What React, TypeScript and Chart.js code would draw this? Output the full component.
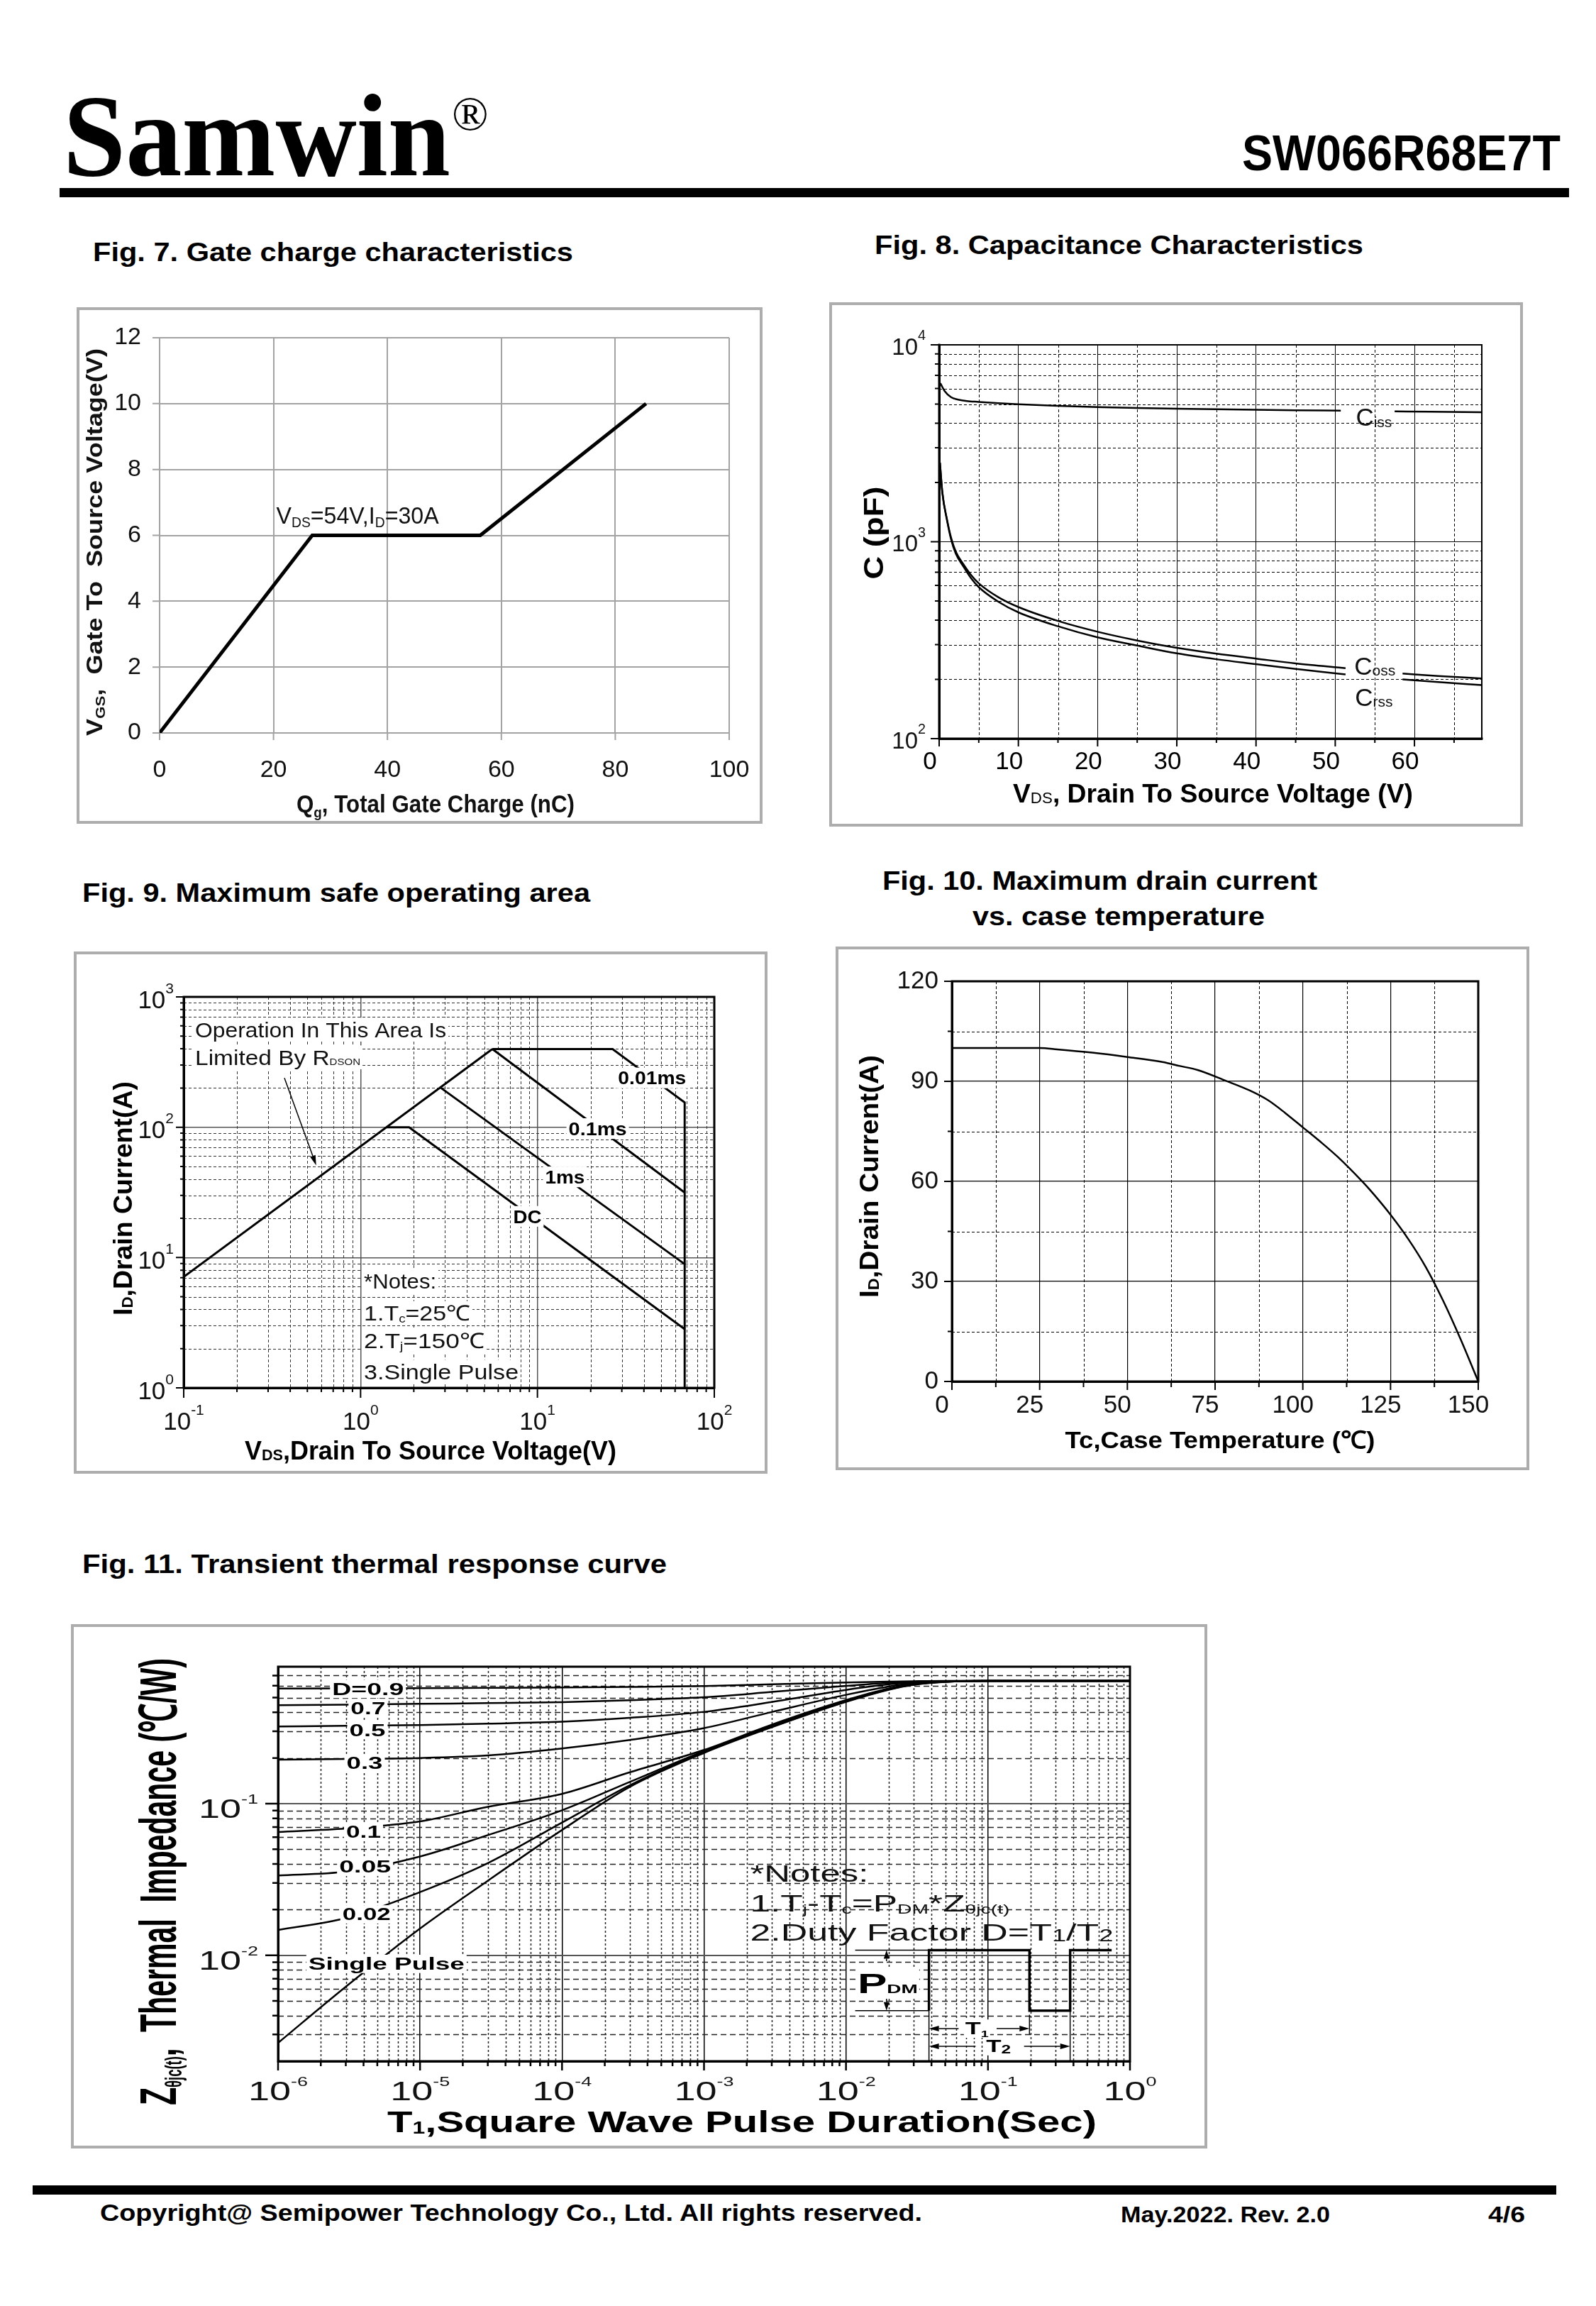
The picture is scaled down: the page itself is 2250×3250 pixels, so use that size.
import React, { useEffect, useRef } from 'react';
import { Chart, registerables } from 'chart.js';

Chart.register(...registerables);

const SANS = '"Liberation Sans", Arial, Helvetica, sans-serif';
const NARROW = '"Liberation Sans Narrow", "Arial Narrow", "Liberation Sans", Arial, sans-serif';
const SERIF = '"Liberation Serif", "Times New Roman", Times, serif';

/* ================= DATA ================= */
/* Fig. 7 gate charge */
const gateCharge = [0, 26.8, 56.3, 85.4];
const gateVoltage = [0, 6, 6, 10];
const fig7XTicks = [0, 20, 40, 60, 80, 100];
const fig7YTicks = [0, 2, 4, 6, 8, 10, 12];

/* Fig. 8 capacitance */
const cissVds = [0.15, 0.7, 1.5, 2.4, 3.5, 5, 7.5, 10, 15, 20, 25, 30, 35, 40, 45, 50.7, 54, 57.5, 62, 68.5];
const cissPf = [6380, 5820, 5420, 5270, 5180, 5130, 5050, 4990, 4900, 4830, 4780, 4740, 4710, 4680, 4655, 4630, null, 4590, 4570, 4550];
const cossVds = [0.1, 0.4, 1, 1.5, 2.1, 3, 4, 5, 7.5, 10, 15, 20, 25, 30, 35, 40, 45, 51.3, 55, 58.5, 63, 68.5];
const cossPf = [2520, 1780, 1290, 1050, 890, 775, 680, 615, 522, 466, 396, 349, 315, 289, 270, 255, 241, 228, null, 214, 208, 202];
const crssPf = [2520, 1780, 1280, 1030, 870, 755, 655, 588, 495, 438, 372, 327, 297, 271, 253, 239, 226, 212, null, 200, 194, 187];
const fig8XTicks = [0, 10, 20, 30, 40, 50, 60];
const fig8XMinor = [5, 15, 25, 35, 45, 55, 65];
const fig8YTicks = [100, 1000, 10000];
const fig8YLabels = ['10^{2}', '10^{3}', '10^{4}'];

/* Fig. 9 safe operating area */
const soaRdsonV = [0.1, 5.56];
const soaRdsonI = [7.1, 398];
const soa10usV = [5.56, 26.6, 68, 68];
const soa10usI = [398, 398, 155, 1];
const soa100usV = [5.56, 68];
const soa100usI = [398, 31.5];
const soa1msV = [2.85, 68];
const soa1msI = [200, 8.9];
const soaDcV = [1.4, 1.88, 68];
const soaDcI = [100, 100, 2.82];
const fig9XTicks = [0.1, 1, 10, 100];
const fig9XLabels = ['10^{-1}', '10^{0}', '10^{1}', '10^{2}'];
const fig9YTicks = [1, 10, 100, 1000];
const fig9YLabels = ['10^{0}', '10^{1}', '10^{2}', '10^{3}'];

/* Fig. 10 drain current vs case temperature */
const caseTemp = [0, 25, 30, 40, 50, 60, 65, 70, 78, 85, 90, 95, 100, 105, 110, 117, 120, 125, 130, 135, 140, 145, 150];
const maxDrain = [100, 100, 99.6, 98.6, 97.3, 95.8, 94.6, 93.4, 90.2, 87.2, 84.4, 80.5, 76.2, 71.9, 67.3, 59.9, 56.4, 50, 42.8, 34.4, 24.2, 12.6, 0];
const fig10XTicks = [0, 25, 50, 75, 100, 125, 150];
const fig10XMinor = [12.5, 37.5, 62.5, 87.5, 112.5, 137.5];
const fig10YTicks = [0, 30, 60, 90, 120];
const fig10YMinor = [15, 45, 75, 105];

/* Fig. 11 transient thermal impedance */
const pulseWidth = [1e-6, 3e-6, 1e-5, 3e-5, 1e-4, 3e-4, 1e-3, 3e-3, 1e-2, 2e-2, 3e-2, 5e-2, 1e-1, 1];
const zD09 = [0.574, 0.576, 0.578, 0.58, 0.583, 0.588, 0.597, 0.613, 0.63, 0.638, 0.642, 0.645, 0.645, 0.645];
const zD07 = [0.446, 0.449, 0.455, 0.46, 0.467, 0.481, 0.503, 0.545, 0.598, 0.626, 0.637, 0.644, 0.645, 0.645];
const zD05 = [0.323, 0.326, 0.33, 0.337, 0.347, 0.368, 0.403, 0.468, 0.562, 0.612, 0.631, 0.642, 0.645, 0.645];
const zD03 = [0.195, 0.197, 0.2, 0.208, 0.231, 0.263, 0.315, 0.402, 0.522, 0.592, 0.624, 0.64, 0.645, 0.645];
const zD01 = [0.0649, 0.0685, 0.0763, 0.0953, 0.116, 0.161, 0.226, 0.332, 0.482, 0.575, 0.614, 0.638, 0.645, 0.645];
const zD005 = [0.0336, 0.0356, 0.0448, 0.062, 0.0904, 0.139, 0.222, 0.326, 0.476, 0.571, 0.612, 0.637, 0.645, 0.645];
const zD002 = [0.0147, 0.0176, 0.0261, 0.0405, 0.075, 0.132, 0.219, 0.322, 0.472, 0.567, 0.61, 0.636, 0.645, 0.645];
const zSingle = [0.00264, 0.0062, 0.015, 0.031, 0.067, 0.129, 0.216, 0.319, 0.469, 0.564, 0.608, 0.635, 0.645, 0.645];
const fig11Series = [zD09, zD07, zD05, zD03, zD01, zD005, zD002, zSingle];
const fig11Names = ['D=0.9', '0.7', '0.5', '0.3', '0.1', '0.05', '0.02', 'Single Pulse'];
const fig11XTicks = [1e-6, 1e-5, 1e-4, 1e-3, 1e-2, 1e-1, 1];
const fig11XLabels = ['10^{-6}', '10^{-5}', '10^{-4}', '10^{-3}', '10^{-2}', '10^{-1}', '10^{0}'];
const fig11YTicks = [0.01, 0.1];
const fig11YLabels = ['10^{-2}', '10^{-1}'];

/* ================= LAYOUT ================= */
const FIG7_BOX = { x: 108, y: 433, w: 967, h: 728 };
const FIG7_PLOT = { l: 225, t: 476, r: 1028, b: 1033 };
const FIG8_BOX = { x: 1169, y: 426, w: 978, h: 739 };
const FIG8_PLOT = { l: 1324, t: 486, r: 2089, b: 1041 };
const FIG9_BOX = { x: 104, y: 1341, w: 978, h: 736 };
const FIG9_PLOT = { l: 259, t: 1405, r: 1007, b: 1956 };
const FIG10_BOX = { x: 1178, y: 1334, w: 978, h: 738 };
const FIG10_PLOT = { l: 1342, t: 1383, r: 2084, b: 1947 };
const FIG11_BOX = { x: 100, y: 2289, w: 1602, h: 739 };
const FIG11_PLOT = { l: 392, t: 2349, r: 1593, b: 2905 };

/* ================= HELPERS ================= */
const pts = (xs: number[], ys: (number | null)[]) => xs.map((x, i) => ({ x, y: ys[i] }));
const setTicks = (vals: number[]) => (s: any) => {
  s.ticks = vals.map((value) => ({ value }));
};
const fitX = (h: number) => (s: any) => {
  s.height = h;
  s.paddingLeft = 0;
  s.paddingRight = 0;
};
const fitY = (w: number) => (s: any) => {
  s.width = w;
  s.paddingTop = 0;
  s.paddingBottom = 0;
};
function pad(box: any, plot: any, wy: number, hx: number) {
  return {
    left: plot.l - box.x - wy,
    top: plot.t - box.y,
    right: box.x + box.w - plot.r,
    bottom: box.y + box.h - plot.b - hx,
  };
}
function logMinors(min: number, max: number) {
  const out: number[] = [];
  for (let e = Math.floor(Math.log10(min)); e <= Math.ceil(Math.log10(max)); e++) {
    for (let m = 2; m <= 9; m++) {
      const v = m * Math.pow(10, e);
      if (v > min * 1.0001 && v < max * 0.9999) out.push(v);
    }
  }
  return out;
}

const BASE: any = {
  responsive: false,
  maintainAspectRatio: false,
  animation: false,
  devicePixelRatio: 1,
  events: [],
  plugins: { legend: { display: false }, tooltip: { enabled: false }, title: { display: false } },
  elements: { point: { radius: 0, hoverRadius: 0 }, line: { fill: false } },
};

type Seg = { t: string; k: 'n' | 's' | 'S' };
function parseRich(s: string): Seg[] {
  const out: Seg[] = [];
  let buf = '';
  let i = 0;
  while (i < s.length) {
    if ((s[i] === '_' || s[i] === '^') && s[i + 1] === '{') {
      if (buf) {
        out.push({ t: buf, k: 'n' });
        buf = '';
      }
      const end = s.indexOf('}', i);
      out.push({ t: s.slice(i + 2, end), k: s[i] === '_' ? 's' : 'S' });
      i = end + 1;
    } else {
      buf += s[i];
      i++;
    }
  }
  if (buf) out.push({ t: buf, k: 'n' });
  return out;
}

function drawRich(ctx: CanvasRenderingContext2D, text: string, x: number, y: number, o: any) {
  const segs = parseRich(text);
  const fam = o.family ?? SANS;
  const wt = o.bold ? 'bold ' : '';
  const subWt = (o.subBold ?? o.bold) ? 'bold ' : '';
  const fontOf = (k: string) =>
    k === 'n'
      ? `${wt}${o.size}px ${fam}`
      : `${subWt}${(k === 's' ? o.subScale ?? 0.62 : o.supScale ?? 0.6) * o.size}px ${fam}`;
  ctx.save();
  const widths = segs.map((s) => {
    ctx.font = fontOf(s.k);
    return ctx.measureText(s.t).width;
  });
  const total = widths.reduce((a, b) => a + b, 0);
  const sx = o.width ? o.width / total : o.sx ?? 1;
  ctx.translate(x, y);
  if (o.rotate) ctx.rotate(o.rotate);
  ctx.scale(sx, 1);
  let cx = o.align === 'center' ? -total / 2 : o.align === 'right' ? -total : 0;
  const base = o.size * 0.358;
  if (o.bg) {
    const p = (o.bgPad ?? 4) / sx;
    ctx.fillStyle = '#fff';
    ctx.fillRect(cx - p, -o.size * 0.56, total + 2 * p, o.size * 1.12);
  }
  ctx.fillStyle = o.color ?? '#000';
  ctx.textAlign = 'left';
  ctx.textBaseline = 'alphabetic';
  segs.forEach((s, i) => {
    ctx.font = fontOf(s.k);
    const dy = s.k === 's' ? o.size * (o.subDy ?? 0.1) : s.k === 'S' ? -o.size * (o.supDy ?? 0.6) : 0;
    ctx.fillText(s.t, cx, base + dy);
    cx += widths[i];
  });
  ctx.restore();
}

function minorGrid(chart: any, axis: string, vals: number[], color: string, width: number, dash: number[]) {
  const ctx = chart.ctx;
  const a = chart.chartArea;
  const sc = chart.scales[axis];
  ctx.save();
  ctx.beginPath();
  ctx.rect(a.left, a.top, a.right - a.left, a.bottom - a.top);
  ctx.clip();
  ctx.strokeStyle = color;
  ctx.lineWidth = width;
  ctx.setLineDash(dash);
  ctx.beginPath();
  for (const v of vals) {
    const p = Math.round(sc.getPixelForValue(v)) + 0.5;
    if (axis === 'x') {
      ctx.moveTo(p, a.top);
      ctx.lineTo(p, a.bottom);
    } else {
      ctx.moveTo(a.left, p);
      ctx.lineTo(a.right, p);
    }
  }
  ctx.stroke();
  ctx.restore();
}

function tickMarks(chart: any, axis: string, vals: number[], len: number, width = 2, color = '#000') {
  const ctx = chart.ctx;
  const a = chart.chartArea;
  const sc = chart.scales[axis];
  ctx.save();
  ctx.strokeStyle = color;
  ctx.lineWidth = width;
  ctx.setLineDash([]);
  ctx.beginPath();
  for (const v of vals) {
    const p = sc.getPixelForValue(v);
    if (axis === 'x') {
      ctx.moveTo(p, a.bottom);
      ctx.lineTo(p, a.bottom + len);
    } else {
      ctx.moveTo(a.left, p);
      ctx.lineTo(a.left - len, p);
    }
  }
  ctx.stroke();
  ctx.restore();
}

function frame(chart: any, sides: string, width: number, color = '#000') {
  const ctx = chart.ctx;
  const a = chart.chartArea;
  ctx.save();
  ctx.strokeStyle = color;
  ctx.lineWidth = width;
  ctx.setLineDash([]);
  ctx.lineCap = 'square';
  ctx.beginPath();
  if (sides.includes('t')) {
    ctx.moveTo(a.left, a.top);
    ctx.lineTo(a.right, a.top);
  }
  if (sides.includes('r')) {
    ctx.moveTo(a.right, a.top);
    ctx.lineTo(a.right, a.bottom);
  }
  if (sides.includes('l')) {
    ctx.moveTo(a.left, a.top);
    ctx.lineTo(a.left, a.bottom);
  }
  if (sides.includes('b')) {
    ctx.moveTo(a.left, a.bottom);
    ctx.lineTo(a.right, a.bottom);
  }
  ctx.stroke();
  ctx.restore();
}

function seg(ctx: CanvasRenderingContext2D, x1: number, y1: number, x2: number, y2: number, w: number) {
  ctx.save();
  ctx.strokeStyle = '#000';
  ctx.lineWidth = w;
  ctx.setLineDash([]);
  ctx.beginPath();
  ctx.moveTo(x1, y1);
  ctx.lineTo(x2, y2);
  ctx.stroke();
  ctx.restore();
}
function arrow(ctx: CanvasRenderingContext2D, x1: number, y1: number, x2: number, y2: number, w: number, len: number, half: number) {
  const ang = Math.atan2(y2 - y1, x2 - x1);
  const bx = x2 - len * Math.cos(ang);
  const by = y2 - len * Math.sin(ang);
  seg(ctx, x1, y1, bx, by, w);
  ctx.save();
  ctx.fillStyle = '#000';
  ctx.beginPath();
  ctx.moveTo(x2, y2);
  ctx.lineTo(bx + half * Math.sin(ang), by - half * Math.cos(ang));
  ctx.lineTo(bx - half * Math.sin(ang), by + half * Math.cos(ang));
  ctx.closePath();
  ctx.fill();
  ctx.restore();
}

function logTickLabels(chart: any, axis: string, vals: number[], labels: string[], gap: number, o: any, shift = 0) {
  const ctx = chart.ctx;
  const a = chart.chartArea;
  const sc = chart.scales[axis];
  vals.forEach((v, i) => {
    const p = sc.getPixelForValue(v);
    if (axis === 'x') drawRich(ctx, labels[i], p + shift, a.bottom + gap, { ...o, align: 'center' });
    else drawRich(ctx, labels[i], a.left - gap, p + shift, { ...o, align: 'right' });
  });
}

const ROT = -Math.PI / 2;

/* ================= FIG 7 ================= */
function makeFig7(canvas: HTMLCanvasElement) {
  const box = FIG7_BOX;
  const WY = 100;
  const HX = 100;
  const gray = '#a3a3a3';
  return new Chart(canvas, {
    type: 'line',
    data: {
      datasets: [
        {
          data: pts(gateCharge, gateVoltage),
          borderColor: '#000',
          borderWidth: 5,
          pointRadius: 0,
          tension: 0,
          borderJoinStyle: 'miter',
        },
      ],
    },
    options: {
      ...BASE,
      layout: { padding: pad(box, FIG7_PLOT, WY, HX) },
      scales: {
        x: {
          type: 'linear',
          min: 0,
          max: 100,
          afterBuildTicks: setTicks(fig7XTicks),
          afterFit: fitX(HX),
          ticks: { font: { family: NARROW, size: 34 }, color: '#111', padding: 32, maxRotation: 0, autoSkip: false, callback: (v: any) => String(v) },
          grid: { color: gray, lineWidth: 2, drawTicks: false },
          border: { display: true, color: gray, width: 2 },
        },
        y: {
          type: 'linear',
          min: 0,
          max: 12,
          afterBuildTicks: setTicks(fig7YTicks),
          afterFit: fitY(WY),
          ticks: { font: { family: NARROW, size: 34 }, color: '#111', padding: 26, autoSkip: false, callback: (v: any) => String(v) },
          grid: { color: gray, lineWidth: 2, drawTicks: false },
          border: { display: true, color: gray, width: 2 },
        },
      },
    } as any,
    plugins: [
      {
        id: 'fig7extras',
        afterDatasetsDraw(chart: any) {
          tickMarks(chart, 'x', fig7XTicks, 10, 2, gray);
          tickMarks(chart, 'y', fig7YTicks, 10, 2, gray);
          const ctx = chart.ctx;
          const xs = chart.scales.x;
          const ys = chart.scales.y;
          drawRich(ctx, 'V_{DS}=54V,I_{D}=30A', xs.getPixelForValue(20.5), ys.getPixelForValue(6.62), {
            size: 33,
            family: NARROW,
            width: 229,
            subScale: 0.6,
            subDy: 0.16,
            color: '#111',
          });
        },
        afterDraw(chart: any) {
          const ctx = chart.ctx;
          drawRich(ctx, 'V_{GS},  Gate To  Source Voltage(V)', 133 - box.x, 764 - box.y, {
            size: 31,
            bold: true,
            rotate: ROT,
            align: 'center',
            width: 546,
            subScale: 0.62,
            subDy: 0.12,
            color: '#111',
          });
          drawRich(ctx, 'Q_{g}, Total Gate Charge (nC)', 614 - box.x, 1132 - box.y, {
            size: 35,
            bold: true,
            family: NARROW,
            align: 'center',
            width: 392,
            subScale: 0.6,
            subDy: 0.22,
            color: '#111',
          });
        },
      },
    ],
  } as any);
}

/* ================= FIG 8 ================= */
function makeFig8(canvas: HTMLCanvasElement) {
  const box = FIG8_BOX;
  const WY = 110;
  const HX = 90;
  const line = (xs: number[], ys: (number | null)[]) => ({
    data: pts(xs, ys),
    borderColor: '#000',
    borderWidth: 2.5,
    pointRadius: 0,
    cubicInterpolationMode: 'monotone',
    spanGaps: false,
  });
  return new Chart(canvas, {
    type: 'line',
    data: { datasets: [line(cissVds, cissPf), line(cossVds, cossPf), line(cossVds, crssPf)] },
    options: {
      ...BASE,
      layout: { padding: pad(box, FIG8_PLOT, WY, HX) },
      scales: {
        x: {
          type: 'linear',
          min: 0,
          max: 68.5,
          afterBuildTicks: setTicks(fig8XTicks),
          afterFit: fitX(HX),
          ticks: { font: { family: SANS, size: 35 }, color: '#000', padding: 12, labelOffset: -13, maxRotation: 0, autoSkip: false, callback: (v: any) => String(v) },
          grid: { color: '#000', lineWidth: 1, drawTicks: false },
          border: { display: true, color: '#000', width: 3 },
        },
        y: {
          type: 'logarithmic',
          min: 100,
          max: 10000,
          afterBuildTicks: setTicks(fig8YTicks),
          afterFit: fitY(WY),
          ticks: { display: false, callback: () => '' },
          grid: { color: '#000', lineWidth: 1, drawTicks: false },
          border: { display: true, color: '#000', width: 3 },
        },
      },
    } as any,
    plugins: [
      {
        id: 'fig8extras',
        beforeDatasetsDraw(chart: any) {
          minorGrid(chart, 'x', fig8XMinor, '#000', 1, [4, 3]);
          minorGrid(chart, 'y', logMinors(100, 10000), '#000', 1, [4, 3]);
        },
        afterDatasetsDraw(chart: any) {
          frame(chart, 'tr', 2);
          frame(chart, 'lb', 3);
          tickMarks(chart, 'x', fig8XTicks, 11, 2);
          tickMarks(chart, 'x', fig8XMinor, 6, 2);
          tickMarks(chart, 'y', fig8YTicks, 12, 2);
          tickMarks(chart, 'y', logMinors(100, 10000), 6, 2);
          const ctx = chart.ctx;
          const xs = chart.scales.x;
          const ys = chart.scales.y;
          const lab = (t: string, v: number, c: number) =>
            drawRich(ctx, t, xs.getPixelForValue(v), ys.getPixelForValue(c), { size: 35, subScale: 0.6, subDy: 0.05, color: '#111' });
          lab('C_{iss}', 52.6, 4300);
          lab('C_{oss}', 52.4, 235);
          lab('C_{rss}', 52.5, 163);
        },
        afterDraw(chart: any) {
          const ctx = chart.ctx;
          logTickLabels(chart, 'y', fig8YTicks, fig8YLabels, 19, { size: 33, supScale: 0.6, supDy: 0.62, color: '#111' }, 2);
          drawRich(ctx, 'C (pF)', 1231 - box.x, 751 - box.y, { size: 38, bold: true, rotate: ROT, align: 'center', width: 131 });
          drawRich(ctx, 'V_{DS}, Drain To Source Voltage (V)', 1710 - box.x, 1118 - box.y, {
            size: 37,
            bold: true,
            align: 'center',
            width: 564,
            subScale: 0.6,
            subDy: 0.02,
            subBold: false,
          });
        },
      },
    ],
  } as any);
}

/* ================= FIG 9 ================= */
function makeFig9(canvas: HTMLCanvasElement) {
  const box = FIG9_BOX;
  const WY = 110;
  const HX = 90;
  const xMin = logMinors(0.1, 100);
  const yMin = logMinors(1, 1000);
  const ds = (xs: number[], ys: number[]) => ({ data: pts(xs, ys), borderColor: '#000', borderWidth: 3, pointRadius: 0, tension: 0 });
  return new Chart(canvas, {
    type: 'line',
    data: {
      datasets: [ds(soaRdsonV, soaRdsonI), ds(soa10usV, soa10usI), ds(soa100usV, soa100usI), ds(soa1msV, soa1msI), ds(soaDcV, soaDcI)],
    },
    options: {
      ...BASE,
      layout: { padding: pad(box, FIG9_PLOT, WY, HX) },
      scales: {
        x: {
          type: 'logarithmic',
          min: 0.1,
          max: 100,
          afterBuildTicks: setTicks(fig9XTicks),
          afterFit: fitX(HX),
          ticks: { display: false, callback: () => '' },
          grid: { color: '#555', lineWidth: 1.5, drawTicks: false },
          border: { display: true, color: '#000', width: 3 },
        },
        y: {
          type: 'logarithmic',
          min: 1,
          max: 1000,
          afterBuildTicks: setTicks(fig9YTicks),
          afterFit: fitY(WY),
          ticks: { display: false, callback: () => '' },
          grid: { color: '#555', lineWidth: 1.5, drawTicks: false },
          border: { display: true, color: '#000', width: 3 },
        },
      },
    } as any,
    plugins: [
      {
        id: 'fig9extras',
        beforeDatasetsDraw(chart: any) {
          minorGrid(chart, 'x', xMin, '#333', 1, [4, 3]);
          minorGrid(chart, 'y', yMin, '#333', 1, [4, 3]);
        },
        afterDatasetsDraw(chart: any) {
          frame(chart, 'tlrb', 3);
          tickMarks(chart, 'x', fig9XTicks, 14, 2);
          tickMarks(chart, 'x', xMin, 6, 2);
          tickMarks(chart, 'y', fig9YTicks, 11, 2);
          tickMarks(chart, 'y', yMin, 5, 2);
          const ctx = chart.ctx;
          const X = (v: number) => chart.scales.x.getPixelForValue(v);
          const Y = (v: number) => chart.scales.y.getPixelForValue(v);
          const bold = { size: 26, bold: true, align: 'center', bg: true, bgPad: 3 };
          drawRich(ctx, '0.01ms', X(44.5), Y(239), { ...bold, width: 96 });
          drawRich(ctx, '0.1ms', X(21.9), Y(97.6), { ...bold, width: 82 });
          drawRich(ctx, '1ms', X(14.3), Y(41.6), { ...bold, width: 56 });
          drawRich(ctx, 'DC', X(8.77), Y(20.7), { ...bold, width: 40 });
          const reg = { size: 30, bg: true, bgPad: 3, color: '#111' };
          drawRich(ctx, 'Operation In This Area Is', X(0.116), Y(561), { ...reg, width: 354 });
          drawRich(ctx, 'Limited By R_{DSON}', X(0.116), Y(344), { ...reg, width: 233, subScale: 0.45, subDy: 0.0 });
          arrow(ctx, X(0.371), Y(239), X(0.561), Y(51), 1.5, 14, 4);
          drawRich(ctx, '*Notes:', X(1.045), Y(6.6), { ...reg, width: 102 });
          drawRich(ctx, '1.T_{c}=25℃', X(1.045), Y(3.75), { ...reg, width: 150, subScale: 0.55, subDy: 0.08 });
          drawRich(ctx, '2.T_{j}=150℃', X(1.045), Y(2.3), { ...reg, width: 170, subScale: 0.55, subDy: 0.08 });
          drawRich(ctx, '3.Single Pulse', X(1.045), Y(1.33), { ...reg, width: 218 });
        },
        afterDraw(chart: any) {
          const ctx = chart.ctx;
          const tl = { size: 35, supScale: 0.6, supDy: 0.6, color: '#111' };
          logTickLabels(chart, 'y', fig9YTicks, fig9YLabels, 14, tl, 3);
          logTickLabels(chart, 'x', fig9XTicks, fig9XLabels, 46, tl, 0);
          drawRich(ctx, 'I_{D},Drain Current(A)', 173 - box.x, 1689 - box.y, {
            size: 37,
            bold: true,
            rotate: ROT,
            align: 'center',
            width: 330,
            subScale: 0.6,
            subDy: 0.02,
          });
          drawRich(ctx, 'V_{DS},Drain To Source Voltage(V)', 607 - box.x, 2044 - box.y, {
            size: 36,
            bold: true,
            align: 'center',
            width: 524,
            subScale: 0.6,
            subDy: 0.02,
          });
        },
      },
    ],
  } as any);
}

/* ================= FIG 10 ================= */
function makeFig10(canvas: HTMLCanvasElement) {
  const box = FIG10_BOX;
  const WY = 110;
  const HX = 90;
  return new Chart(canvas, {
    type: 'line',
    data: {
      datasets: [
        {
          data: pts(caseTemp, maxDrain),
          borderColor: '#000',
          borderWidth: 2.5,
          pointRadius: 0,
          cubicInterpolationMode: 'monotone',
        },
      ],
    },
    options: {
      ...BASE,
      layout: { padding: pad(box, FIG10_PLOT, WY, HX) },
      scales: {
        x: {
          type: 'linear',
          min: 0,
          max: 150,
          afterBuildTicks: setTicks(fig10XTicks),
          afterFit: fitX(HX),
          ticks: { font: { family: SANS, size: 35 }, color: '#111', padding: 13, labelOffset: -14, maxRotation: 0, autoSkip: false, callback: (v: any) => String(v) },
          grid: { color: '#000', lineWidth: 1.2, drawTicks: false },
          border: { display: true, color: '#000', width: 3 },
        },
        y: {
          type: 'linear',
          min: 0,
          max: 120,
          afterBuildTicks: setTicks(fig10YTicks),
          afterFit: fitY(WY),
          ticks: { font: { family: SANS, size: 35 }, color: '#111', padding: 19, autoSkip: false, callback: (v: any) => String(v) },
          grid: { color: '#000', lineWidth: 1.2, drawTicks: false },
          border: { display: true, color: '#000', width: 3 },
        },
      },
    } as any,
    plugins: [
      {
        id: 'fig10extras',
        beforeDatasetsDraw(chart: any) {
          minorGrid(chart, 'x', fig10XMinor, '#000', 1, [4, 3]);
          minorGrid(chart, 'y', fig10YMinor, '#000', 1, [4, 3]);
        },
        afterDatasetsDraw(chart: any) {
          frame(chart, 'tlrb', 3);
          tickMarks(chart, 'x', fig10XTicks, 12, 2);
          tickMarks(chart, 'x', fig10XMinor, 8, 2);
          tickMarks(chart, 'y', fig10YTicks, 11, 2);
          tickMarks(chart, 'y', fig10YMinor, 6, 2);
        },
        afterDraw(chart: any) {
          const ctx = chart.ctx;
          drawRich(ctx, 'I_{D},Drain Current(A)', 1225 - box.x, 1658 - box.y, {
            size: 37,
            bold: true,
            rotate: ROT,
            align: 'center',
            width: 342,
            subScale: 0.6,
            subDy: 0.02,
          });
          drawRich(ctx, 'Tc,Case Temperature (℃)', 1720 - box.x, 2029 - box.y, {
            size: 34,
            bold: true,
            align: 'center',
            width: 437,
          });
        },
      },
    ],
  } as any);
}

/* ================= FIG 11 ================= */
const fig11Labels = [
  { t: 4.3e-6, z: 0.571, w: 101 },
  { t: 4.3e-6, z: 0.4266, w: 49 },
  { t: 4.26e-6, z: 0.3055, w: 51 },
  { t: 4.07e-6, z: 0.185, w: 51 },
  { t: 4.0e-6, z: 0.0654, w: 49 },
  { t: 4.1e-6, z: 0.0383, w: 73 },
  { t: 4.2e-6, z: 0.0186, w: 68 },
  { t: 5.8e-6, z: 0.00877, w: 220 },
];
const pulseDiagram = {
  refStart: 0.0116,
  rise1: 0.0384,
  fall1: 0.196,
  rise2: 0.379,
  end: 0.743,
  high: 0.0108,
  low: 0.00431,
  pdmT: 0.0193,
  pdmUpFrom: 0.00914,
  pdmDownFrom: 0.00516,
  t1Z: 0.00328,
  t2Z: 0.00251,
};

function makeFig11(canvas: HTMLCanvasElement) {
  const box = FIG11_BOX;
  const WY = 200;
  const HX = 100;
  const xMin = logMinors(1e-6, 1);
  const yMin = logMinors(0.002, 0.8);
  return new Chart(canvas, {
    type: 'line',
    data: {
      datasets: fig11Series.map((s, i) => ({
        label: fig11Names[i],
        data: pts(pulseWidth, s),
        borderColor: '#000',
        borderWidth: 2.5,
        pointRadius: 0,
        cubicInterpolationMode: 'monotone',
      })),
    },
    options: {
      ...BASE,
      layout: { padding: pad(box, FIG11_PLOT, WY, HX) },
      scales: {
        x: {
          type: 'logarithmic',
          min: 1e-6,
          max: 1,
          afterBuildTicks: setTicks(fig11XTicks),
          afterFit: fitX(HX),
          ticks: { display: false, callback: () => '' },
          grid: { color: '#000', lineWidth: 1.5, drawTicks: false },
          border: { display: true, color: '#000', width: 3 },
        },
        y: {
          type: 'logarithmic',
          min: 0.002,
          max: 0.8,
          afterBuildTicks: setTicks(fig11YTicks),
          afterFit: fitY(WY),
          ticks: { display: false, callback: () => '' },
          grid: { color: '#555', lineWidth: 2, drawTicks: false },
          border: { display: true, color: '#000', width: 3 },
        },
      },
    } as any,
    plugins: [
      {
        id: 'fig11extras',
        beforeDatasetsDraw(chart: any) {
          minorGrid(chart, 'x', xMin, '#222', 1.5, [3, 3]);
          minorGrid(chart, 'y', yMin, '#222', 1.5, [8, 5]);
        },
        afterDatasetsDraw(chart: any) {
          frame(chart, 'tlrb', 3);
          tickMarks(chart, 'x', fig11XTicks, 13, 2.5);
          tickMarks(chart, 'x', xMin, 7, 2.5);
          tickMarks(chart, 'y', fig11YTicks, 18, 2.5);
          tickMarks(chart, 'y', yMin, 8, 2.5);
          const ctx = chart.ctx;
          const X = (v: number) => chart.scales.x.getPixelForValue(v);
          const Y = (v: number) => chart.scales.y.getPixelForValue(v);
          fig11Labels.forEach((l, i) => {
            drawRich(ctx, fig11Names[i], X(l.t), Y(l.z), { size: 23, bold: true, align: 'center', width: l.w, bg: true, bgPad: 3 });
          });
          const nt = { size: 33, bg: false, color: '#111', subScale: 0.55, subDy: 0.1 };
          drawRich(ctx, '*Notes:', X(0.00211), Y(0.0347), { ...nt, width: 167 });
          drawRich(ctx, '1.T_{j}-T_{c}=P_{DM}*Z_{θjc(t)}', X(0.00211), Y(0.0221), { ...nt, width: 366 });
          drawRich(ctx, '2.Duty Factor D=T_{1}/T_{2}', X(0.00211), Y(0.01422), { ...nt, width: 512, subScale: 0.7, subDy: 0.05 });
          const P = pulseDiagram;
          seg(ctx, X(P.refStart), Y(P.high), X(P.rise1), Y(P.high), 1.5);
          seg(ctx, X(P.refStart), Y(P.low), X(P.rise1), Y(P.low), 1.5);
          ctx.save();
          ctx.strokeStyle = '#000';
          ctx.lineWidth = 3.5;
          ctx.setLineDash([]);
          ctx.beginPath();
          ctx.moveTo(X(P.rise1), Y(P.low));
          ctx.lineTo(X(P.rise1), Y(P.high));
          ctx.lineTo(X(P.fall1), Y(P.high));
          ctx.lineTo(X(P.fall1), Y(P.low));
          ctx.lineTo(X(P.rise2), Y(P.low));
          ctx.lineTo(X(P.rise2), Y(P.high));
          ctx.lineTo(X(P.end), Y(P.high));
          ctx.stroke();
          ctx.restore();
          seg(ctx, X(P.rise1), Y(P.low), X(P.rise1), Y(0.002), 1.5);
          seg(ctx, X(P.fall1), Y(0.00405), X(P.fall1), Y(0.003), 1.5);
          seg(ctx, X(P.rise2), Y(P.low), X(P.rise2), Y(0.002), 1.5);
          arrow(ctx, X(P.pdmT), Y(P.pdmUpFrom), X(P.pdmT), Y(P.high), 1.5, 12, 4);
          arrow(ctx, X(P.pdmT), Y(P.pdmDownFrom), X(P.pdmT), Y(P.low), 1.5, 12, 4);
          drawRich(ctx, 'P_{DM}', X(0.01205), Y(0.0065), { size: 38, bold: true, width: 85, subScale: 0.45, subDy: 0.0, bg: true, bgPad: 2 });
          arrow(ctx, X(0.0621), Y(P.t1Z), X(P.rise1), Y(P.t1Z), 1.5, 14, 4);
          arrow(ctx, X(0.115), Y(P.t1Z), X(P.fall1), Y(P.t1Z), 1.5, 14, 4);
          arrow(ctx, X(0.0818), Y(P.t2Z), X(P.rise1), Y(P.t2Z), 1.5, 14, 4);
          arrow(ctx, X(0.1795), Y(P.t2Z), X(P.rise2), Y(P.t2Z), 1.5, 14, 4);
          drawRich(ctx, 'T_{1}', X(0.0837), Y(P.t1Z), { size: 23, bold: true, align: 'center', width: 33, subScale: 0.55, subDy: 0.15, bg: true, bgPad: 2 });
          drawRich(ctx, 'T_{2}', X(0.1186), Y(P.t2Z), { size: 23, bold: true, align: 'center', width: 35, subScale: 0.7, subDy: 0.1, bg: true, bgPad: 2 });
        },
        afterDraw(chart: any) {
          const ctx = chart.ctx;
          const tl = { size: 36, sx: 1.5, supScale: 0.5, supDy: 0.55, color: '#111' };
          logTickLabels(chart, 'x', fig11XTicks, fig11XLabels, 42, tl, 0);
          logTickLabels(chart, 'y', fig11YTicks, fig11YLabels, 28, tl, 7);
          drawRich(ctx, 'Z_{θjc(t)},  Thermal  Impedance (℃/W)', 222 - box.x, 2652 - box.y, {
            size: 72,
            bold: true,
            rotate: ROT,
            align: 'center',
            width: 630,
            subScale: 0.45,
            subDy: 0.12,
          });
          drawRich(ctx, 'T_{1},Square Wave Pulse Duration(Sec)', 1046 - box.x, 2990 - box.y, {
            size: 42,
            bold: true,
            align: 'center',
            width: 1000,
            subScale: 0.55,
            subDy: 0.05,
          });
        },
      },
    ],
  } as any);
}

/* ================= COMPONENTS ================= */
function Figure({ box, make }: { box: any; make: (c: HTMLCanvasElement) => any }) {
  const ref = useRef<HTMLCanvasElement>(null);
  useEffect(() => {
    const chart = make(ref.current as HTMLCanvasElement);
    return () => chart.destroy();
  }, [make]);
  return (
    <>
      <div
        style={{
          position: 'absolute',
          left: box.x,
          top: box.y,
          width: box.w,
          height: box.h,
          border: '4px solid #adadad',
          boxSizing: 'border-box',
        }}
      />
      <canvas
        ref={ref}
        width={box.w}
        height={box.h}
        style={{ position: 'absolute', left: box.x, top: box.y, width: box.w, height: box.h }}
      />
    </>
  );
}

export default function App() {
  const title = { fontFamily: SANS, fontWeight: 'bold' as const, fontSize: 37, fill: '#000', lengthAdjust: 'spacingAndGlyphs' as const };
  return (
    <div style={{ position: 'absolute', left: 0, top: 0, width: 2250, height: 3250, background: '#fff', overflow: 'hidden' }}>
      <svg width={2250} height={3250} style={{ position: 'absolute', left: 0, top: 0 }}>
        <text x={89} y={247} fontFamily={SERIF} fontWeight="bold" fontSize={165} textLength={546} lengthAdjust="spacingAndGlyphs">
          Samwin
        </text>
        <text x={637} y={183} fontFamily={SERIF} fontSize={68}>
          ®
        </text>
        <text x={2200} y={240} textAnchor="end" fontFamily={SANS} fontWeight="bold" fontSize={71} textLength={449} lengthAdjust="spacingAndGlyphs">
          SW066R68E7T
        </text>
        <rect x={84} y={265} width={2128} height={13} fill="#000" />
        <text x={131} y={368} {...title} textLength={677}>
          Fig. 7. Gate charge characteristics
        </text>
        <text x={1233} y={358} {...title} textLength={689}>
          Fig. 8. Capacitance Characteristics
        </text>
        <text x={116} y={1271} {...title} textLength={716}>
          Fig. 9. Maximum safe operating area
        </text>
        <text x={1244} y={1254} {...title} textLength={613}>
          Fig. 10. Maximum drain current
        </text>
        <text x={1371} y={1304} {...title} textLength={412}>
          vs. case temperature
        </text>
        <text x={116} y={2217} {...title} textLength={824}>
          Fig. 11. Transient thermal response curve
        </text>
        <rect x={46} y={3080} width={2148} height={13} fill="#000" />
        <text x={141} y={3130} fontFamily={SANS} fontWeight="bold" fontSize={34} textLength={1159} lengthAdjust="spacingAndGlyphs">
          Copyright@ Semipower Technology Co., Ltd. All rights reserved.
        </text>
        <text x={1580} y={3132} fontFamily={SANS} fontWeight="bold" fontSize={31} textLength={295} lengthAdjust="spacingAndGlyphs">
          May.2022. Rev. 2.0
        </text>
        <text x={2098} y={3132} fontFamily={SANS} fontWeight="bold" fontSize={31} textLength={52} lengthAdjust="spacingAndGlyphs">
          4/6
        </text>
      </svg>
      <Figure box={FIG7_BOX} make={makeFig7} />
      <Figure box={FIG8_BOX} make={makeFig8} />
      <Figure box={FIG9_BOX} make={makeFig9} />
      <Figure box={FIG10_BOX} make={makeFig10} />
      <Figure box={FIG11_BOX} make={makeFig11} />
    </div>
  );
}
